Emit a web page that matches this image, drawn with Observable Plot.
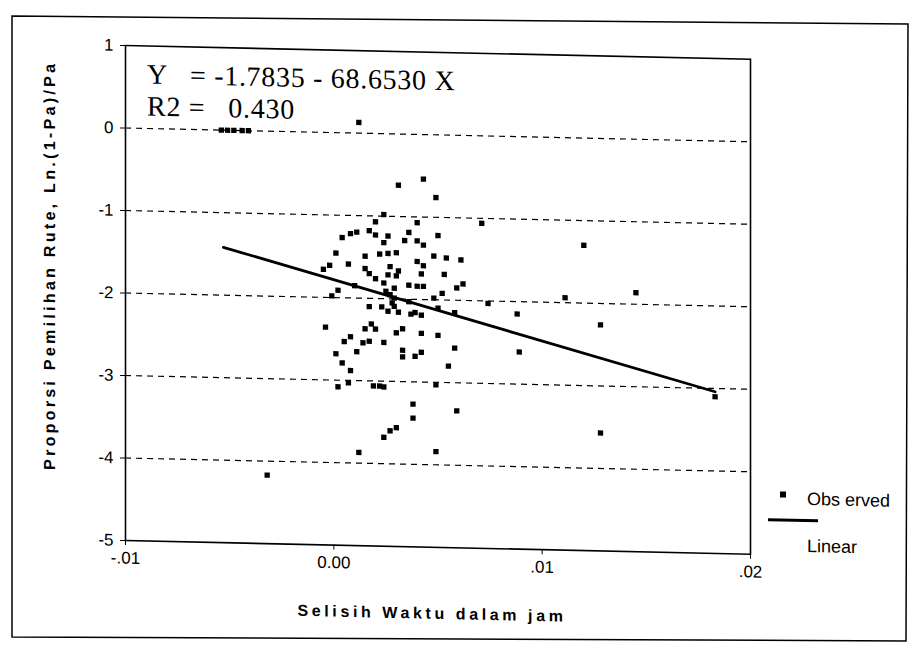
<!DOCTYPE html>
<html><head><meta charset="utf-8">
<script src="https://cdn.jsdelivr.net/npm/d3@7"></script>
<script src="https://cdn.jsdelivr.net/npm/@observablehq/plot@0.6"></script>
<style>
html,body{margin:0;padding:0;background:#fff;}
#wrap{position:relative;width:921px;height:661px;overflow:hidden;background:#fff;}
#outer{position:absolute;left:0;top:0;}
#sk{position:absolute;left:0;top:0;width:921px;height:661px;transform:skewY(1.26deg);transform-origin:125px 0;}
#chart{position:absolute;left:0;top:0;}
.eq{position:absolute;left:147px;font-family:'Liberation Serif','Times New Roman',serif;font-size:28px;line-height:32px;letter-spacing:0.7px;white-space:pre;color:#000;}
.lab{position:absolute;font-family:'Liberation Sans',Arial,sans-serif;font-weight:bold;font-size:16px;white-space:nowrap;color:#000;}
.leg{position:absolute;font-family:'Liberation Sans',Arial,sans-serif;font-size:18px;line-height:20px;white-space:pre;color:#000;}
</style></head>
<body>
<div id="wrap">
<svg id="outer" width="921" height="661"><polygon points="12,16 908,24 906,641 12,637" fill="none" stroke="#000" stroke-width="1.5"/></svg>
<div id="sk">
<div id="chart"></div>
<div class="eq" id="eq1" style="top:58px"></div>
<div class="eq" id="eq2" style="top:90px"></div>
<div class="lab" id="xt" style="left:432px;top:607px;letter-spacing:3.6px;transform:translate(-50%,-50%);"></div>
<div class="lab" id="yt" style="left:50px;top:267px;letter-spacing:3.3px;transform:translate(-50%,-50%) rotate(-90deg);"></div>
<div style="position:absolute;left:780px;top:477px;width:6px;height:6px;background:#000;"></div>
<div class="leg" id="l1" style="left:807px;top:474px;"></div>
<div style="position:absolute;left:768px;top:504px;width:50px;height:3px;background:#000;"></div>
<div class="leg" id="l2" style="left:807px;top:521px;"></div>
</div></div>
<script>
// Observed points (Selisih Waktu dalam jam, Ln((1-Pa)/Pa))
const obsX = [
-0.0054,-0.0051,-0.0048,-0.0044,-0.0041,
0.0012,0.0031,0.0043,0.0049,0.0071,
0.0020,0.0024,0.0040,0.0004,0.0008,
0.0011,0.0017,0.0020,0.0026,0.0036,
0.0050,0.0024,0.0026,0.0034,0.0040,
0.0043,0.0022,0.0030,0.0001,0.0015,
0.0048,0.0054,0.0061,0.0007,-0.0002,
-0.0005,0.0015,0.0017,0.0020,0.0027,
0.0026,0.0031,0.0030,0.0040,0.0043,
0.0042,0.0053,0.0062,0.0059,0.0036,
0.0040,0.0043,0.0024,0.0029,0.0010,
0.0002,-0.0001,0.0025,0.0027,0.0029,
0.0028,0.0029,0.0023,0.0017,0.0026,
0.0031,0.0036,0.0037,0.0039,0.0042,
0.0048,0.0052,0.0050,0.0058,0.0074,
0.0088,0.0089,0.0111,0.0120,0.0145,
0.0128,0.0128,0.0183,-0.0004,0.0015,
0.0018,0.0020,0.0030,0.0033,0.0008,
0.0005,0.0014,0.0017,0.0024,0.0042,
0.0050,0.0058,0.0001,0.0011,0.0033,
0.0033,0.0039,0.0042,0.0055,0.0004,
0.0008,0.0002,0.0007,0.0019,0.0022,
0.0024,0.0049,0.0038,0.0038,0.0059,
0.0030,0.0027,0.0024,0.0012,0.0049,
-0.0032
];
const obsY = [
0,0,0,0,0,
0.13,-0.62,-0.54,-0.76,-1.06,
-1.07,-0.98,-1.07,-1.27,-1.22,
-1.20,-1.18,-1.23,-1.24,-1.19,
-1.22,-1.32,-1.45,-1.29,-1.29,
-1.34,-1.46,-1.44,-1.46,-1.49,
-1.47,-1.49,-1.51,-1.59,-1.61,
-1.66,-1.64,-1.70,-1.76,-1.61,
-1.71,-1.66,-1.72,-1.54,-1.59,
-1.69,-1.69,-1.80,-1.85,-1.83,
-1.84,-1.84,-1.81,-1.87,-1.85,
-1.91,-1.98,-1.91,-1.95,-1.99,
-2.05,-2.09,-2.10,-2.10,-2.15,
-2.16,-2.03,-2.18,-2.16,-2.19,
-1.98,-1.92,-2.10,-2.15,-2.03,
-2.15,-2.61,-1.94,-1.30,-1.86,
-2.26,-3.57,-3.10,-2.36,-2.37,
-2.31,-2.37,-2.41,-2.36,-2.47,
-2.53,-2.54,-2.52,-2.53,-2.41,
-2.43,-2.58,-2.68,-2.65,-2.62,
-2.70,-2.69,-2.64,-2.80,-2.79,
-2.88,-3.08,-3.03,-3.06,-3.06,
-3.07,-3.03,-3.27,-3.44,-3.34,
-3.56,-3.60,-3.68,-3.87,-3.84,
-4.17
];
// Fitted linear line (read end points)
const lineX = [-0.0053, 0.0183];
const lineY = [-1.42, -3.04];
// Axes
const xTicks = [-0.01, 0, 0.01, 0.02];
const xTickLabels = ["-.01", "0.00", ".01", ".02"];
const yTicks = [1, 0, -1, -2, -3, -4, -5];
const yTickLabels = ["1", "0", "-1", "-2", "-3", "-4", "-5"];
const gridValues = [0, -1, -2, -3, -4];
// Texts
const eqLine1 = "Y   = -1.7835 - 68.6530 X";
const eqLine2 = "R2 =   0.430";
const xTitle = "Selisih Waktu dalam jam";
const yTitle = "Proporsi Pemilihan Rute, Ln.(1-Pa)/Pa";
const legendLabels = ["Obs erved", "Linear"];

const data = obsX.map((x, i) => ({x, y: obsY[i]}));
const lineData = lineX.map((x, i) => ({x, y: lineY[i]}));

const plot = Plot.plot({
  width: 921, height: 661,
  marginLeft: 125, marginRight: 171, marginTop: 45, marginBottom: 121,
  style: {fontFamily: "'Liberation Sans', Arial, sans-serif", fontSize: "17px", color: "#000", background: "transparent", overflow: "visible"},
  x: {domain: [-0.01, 0.02], ticks: xTicks, tickFormat: d => xTickLabels[xTicks.indexOf(d)], tickSize: 5, tickPadding: 6, label: null},
  y: {domain: [-5, 1], ticks: yTicks, tickFormat: d => yTickLabels[yTicks.indexOf(d)], tickSize: 5, tickPadding: 7, label: null},
  marks: [
    Plot.ruleY(gridValues, {stroke: "#000", strokeWidth: 1.2, strokeDasharray: "6,5"}),
    Plot.frame({stroke: "#000", strokeWidth: 1.6}),
    Plot.line(lineData, {x: "x", y: "y", stroke: "#000", strokeWidth: 2.8}),
    Plot.dot(data, {x: "x", y: "y", symbol: "square", r: 3, fill: "#000", stroke: "none"})
  ]
});
document.getElementById("chart").appendChild(plot);
document.getElementById("eq1").textContent = eqLine1;
document.getElementById("eq2").textContent = eqLine2;
document.getElementById("xt").textContent = xTitle;
document.getElementById("yt").textContent = yTitle;
document.getElementById("l1").textContent = legendLabels[0];
document.getElementById("l2").textContent = legendLabels[1];
</script>
</body></html>
